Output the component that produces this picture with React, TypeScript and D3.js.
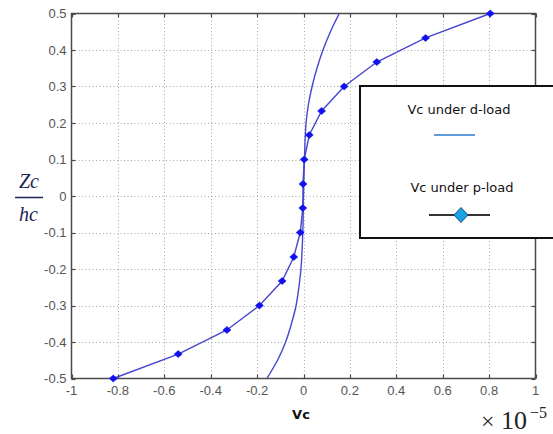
import React from "react";
import * as d3 from "d3";

// Non-dimensional depth Zc/hc for each sampled point
const pLoadZ = [-0.5, -0.433, -0.367, -0.3, -0.233, -0.167, -0.1, -0.033, 0.033, 0.1, 0.167, 0.233, 0.3, 0.367, 0.433, 0.5];
// Vc (×1e-5) under point load
const pLoadV = [-0.82, -0.54, -0.33, -0.19, -0.092, -0.042, -0.014, -0.003, -0.002, 0.003, 0.025, 0.078, 0.175, 0.316, 0.526, 0.805];

const dLoadZ = [-0.5, -0.45, -0.4, -0.35, -0.3, -0.25, -0.2, -0.1, 0, 0.1, 0.2, 0.25, 0.3, 0.35, 0.4, 0.45, 0.5];
// Vc (×1e-5) under distributed load
const dLoadV = [-0.158, -0.112, -0.077, -0.052, -0.032, -0.02, -0.011, -0.003, 0.0, 0.004, 0.011, 0.021, 0.037, 0.058, 0.084, 0.116, 0.154];

const xTicks = [-1, -0.8, -0.6, -0.4, -0.2, 0, 0.2, 0.4, 0.6, 0.8, 1];
const yTicks = [-0.5, -0.4, -0.3, -0.2, -0.1, 0, 0.1, 0.2, 0.3, 0.4, 0.5];

const legendLabels = ["Vc under d-load", "Vc under p-load"];

export default function App() {
  const W = 553;
  const H = 434;
  const left = 71.5, right = 535.5, top = 13.5, bottom = 378.5;
  const x = d3.scaleLinear().domain([-1, 1]).range([left, right]);
  const y = d3.scaleLinear().domain([-0.5, 0.5]).range([bottom, top]);

  const pPts: [number, number][] = pLoadV.map((v, i) => [v, pLoadZ[i]]);
  const dPts: [number, number][] = dLoadV.map((v, i) => [v, dLoadZ[i]]);

  const straight = d3.line<[number, number]>().x((d) => x(d[0])).y((d) => y(d[1]));
  const smooth = d3
    .line<[number, number]>()
    .x((d) => x(d[0]))
    .y((d) => y(d[1]))
    .curve(d3.curveCatmullRom.alpha(0.5));

  const lineColor = "#4646cf";
  const axisColor = "#4a4a4a";
  const tickColor = "#555";
  const tickFont = "Liberation Sans, Arial, sans-serif";

  const diamond = (cx: number, cy: number, rx: number, ry: number) =>
    `M${cx},${cy - ry}L${cx + rx},${cy}L${cx},${cy + ry}L${cx - rx},${cy}Z`;

  // legend box
  const lg = { x: 360, y: 86, w: 200, h: 152 };

  return (
    <svg
      width={W}
      height={H}
      style={{ position: "absolute", left: 0, top: 0, background: "#fff" }}
    >
      <rect x={0} y={0} width={W} height={H} fill="#fff" />

      {/* grid */}
      <g stroke="#a8a8a8" strokeWidth={1} strokeDasharray="1,2.5">
        {xTicks.slice(1, -1).map((t) => (
          <line key={`gx${t}`} x1={Math.round(x(t)) + 0.5} x2={Math.round(x(t)) + 0.5} y1={top} y2={bottom} />
        ))}
        {yTicks.slice(1, -1).map((t) => (
          <line key={`gy${t}`} x1={left} x2={right} y1={Math.round(y(t)) + 0.5} y2={Math.round(y(t)) + 0.5} />
        ))}
      </g>

      {/* ticks */}
      <g stroke={axisColor} strokeWidth={1.2}>
        {xTicks.map((t) => (
          <g key={`tx${t}`}>
            <line x1={Math.round(x(t)) + 0.5} x2={Math.round(x(t)) + 0.5} y1={bottom} y2={bottom - 4} />
            <line x1={Math.round(x(t)) + 0.5} x2={Math.round(x(t)) + 0.5} y1={top} y2={top + 4} />
          </g>
        ))}
        {yTicks.map((t) => (
          <g key={`ty${t}`}>
            <line x1={left} x2={left + 4} y1={Math.round(y(t)) + 0.5} y2={Math.round(y(t)) + 0.5} />
            <line x1={right} x2={right - 4} y1={Math.round(y(t)) + 0.5} y2={Math.round(y(t)) + 0.5} />
          </g>
        ))}
      </g>

      {/* frame */}
      <rect x={left} y={top} width={right - left} height={bottom - top} fill="none" stroke={axisColor} strokeWidth={1.5} />

      {/* tick labels */}
      <g fill={tickColor} fontFamily={tickFont} fontSize={13}>
        {xTicks.map((t) => (
          <text key={`lx${t}`} x={x(t)} y={395} textAnchor="middle">
            {String(t)}
          </text>
        ))}
        {yTicks.map((t) => (
          <text key={`ly${t}`} x={left - 5} y={y(t) + 4.5} textAnchor="end">
            {String(t)}
          </text>
        ))}
      </g>

      {/* curves */}
      <path d={smooth(dPts) || ""} fill="none" stroke={lineColor} strokeWidth={1.4} />
      <path d={straight(pPts) || ""} fill="none" stroke={lineColor} strokeWidth={1.4} />
      <g fill="#1010ee" stroke="#1010ee" strokeWidth={0.6}>
        {pPts.map((d, i) => (
          <path key={`m${i}`} d={diamond(x(d[0]), y(d[1]), 4, 3.5)} />
        ))}
      </g>

      {/* axis labels */}
      <text x={301} y={419} textAnchor="middle" fontFamily="DejaVu Sans, sans-serif" fontWeight="bold" fontSize={13} fill="#111">
        Vc
      </text>
      <g fontFamily="Liberation Serif, Times New Roman, serif" fill="#222">
        <text x={481} y={429} fontSize={24}>×</text>
        <text x={501} y={429} fontSize={26}>10</text>
        <text x={530} y={418} fontSize={16}>−5</text>
      </g>

      <g fontFamily="Liberation Serif, Times New Roman, serif" fontStyle="italic" fontSize={20} fill="#1c2450" textAnchor="middle">
        <text x={29} y={188}>Zc</text>
        <line x1={15} x2={43} y1={197.5} y2={197.5} stroke="#1c2450" strokeWidth={1.5} />
        <text x={28.5} y={221}>hc</text>
      </g>

      {/* legend */}
      <rect x={lg.x} y={lg.y} width={lg.w} height={lg.h} fill="#fff" stroke="#111" strokeWidth={2} />
      <g fontFamily="DejaVu Sans, sans-serif" fontSize={13} fill="#111" textAnchor="middle">
        <text x={459} y={114}>{legendLabels[0]}</text>
        <text x={462} y={192}>{legendLabels[1]}</text>
      </g>
      <line x1={434} x2={475} y1={135} y2={135} stroke="#2b7bd0" strokeWidth={1.5} />
      <line x1={429} x2={490} y1={215} y2={215} stroke="#333" strokeWidth={2} />
      <path d={diamond(461, 215, 7, 7.5)} fill="#19a3e3" stroke="#0b4f80" strokeWidth={1} />
    </svg>
  );
}
